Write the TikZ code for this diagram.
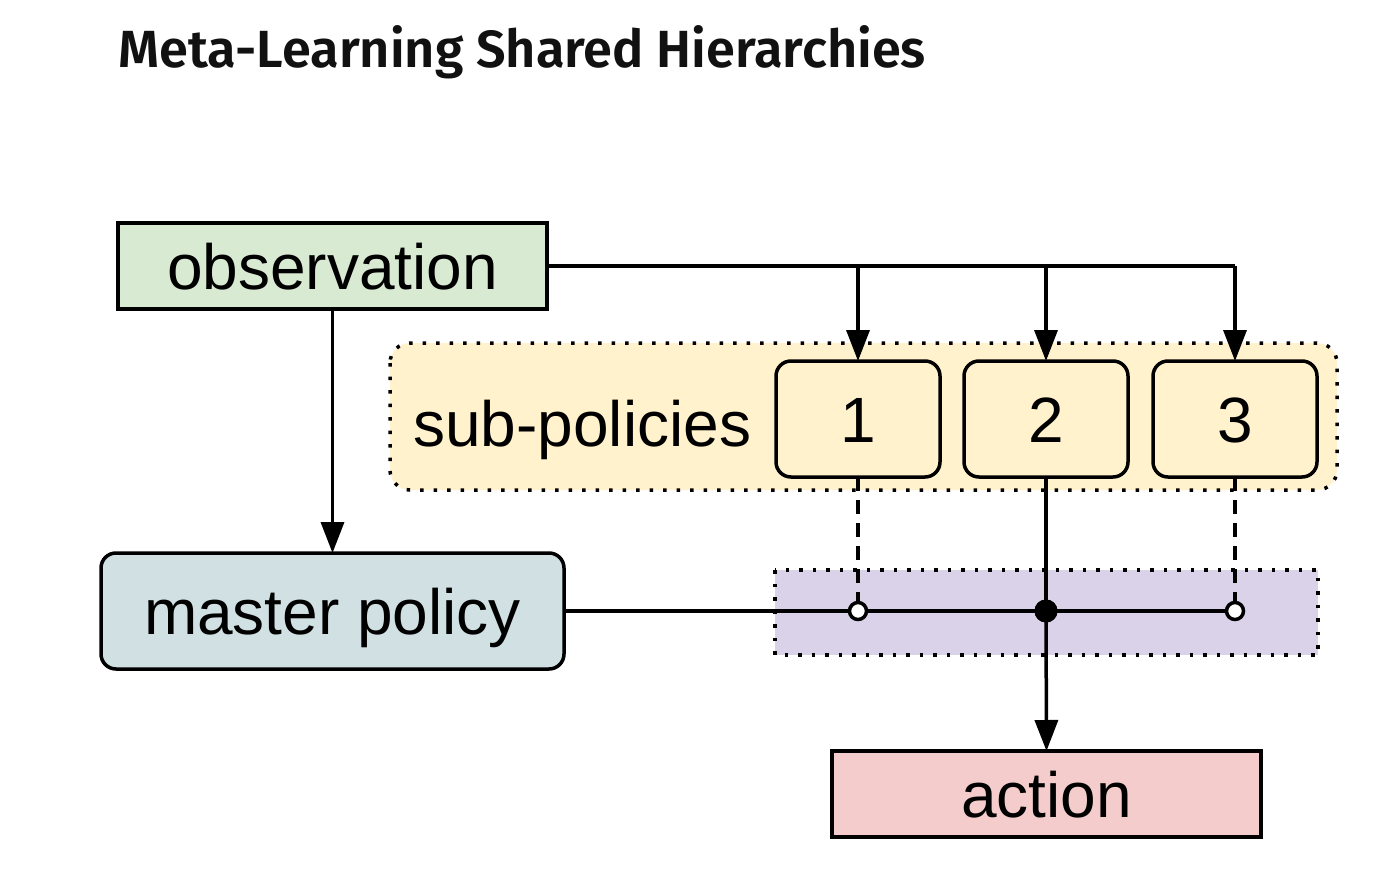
\documentclass[tikz,border=0pt]{standalone}
\usepackage{fontspec}
\setmainfont{Liberation Sans}
\newfontfamily\titlefont{Fira Sans SemiBold}
\usetikzlibrary{arrows.meta}
\definecolor{obsgreen}{HTML}{D9EAD3}
\definecolor{mastblue}{HTML}{D0E0E3}
\definecolor{actred}{HTML}{F4CCCC}
\definecolor{subyellow}{HTML}{FFF2CC}
\definecolor{swpurple}{HTML}{D9D2E9}
\definecolor{titleink}{HTML}{111111}
\tikzset{
  lw/.style={line width=3.5pt},
  box/.style={draw=black, lw, inner sep=0pt, outer sep=0pt, font=\fontsize{64}{70}\selectfont, text height=46pt, text depth=0pt},
  rbox/.style={box, rounded corners=15pt},
  conn/.style={lw, draw=black},
  arr/.style={conn, -{Triangle[length=31pt,width=23pt]}},
  dotframe/.style={line width=3.5pt, dash pattern=on 3.5pt off 10pt},
  opendot/.style={circle, draw=black, lw, fill=white, minimum size=17pt, inner sep=0pt, outer sep=0pt},
  fulldot/.style={circle, fill=black, minimum size=23pt, inner sep=0pt, outer sep=0pt},
}
\begin{document}
\begin{tikzpicture}[x=1pt,y=-1pt]
\useasboundingbox (0,0) rectangle (1374,886);
% title
\node[anchor=base west, inner sep=0pt, text=titleink, font=\titlefont\fontsize{52.3}{60}\selectfont] (title) at (118,67) {Meta-Learning Shared Hierarchies};
% group frames
\draw[fill=subyellow, dotframe, rounded corners=20pt] (390,343) rectangle (1337,490);
\draw[fill=swpurple, dotframe] (775,570) rectangle (1318,655);
% nodes
\node[box, fill=obsgreen, minimum width=429pt, minimum height=86pt] (obs) at (332.5,266) {observation};
\node[rbox, fill=mastblue, minimum width=463pt, minimum height=116pt] (mast) at (332.5,611) {master policy};
\node[box, fill=actred, minimum width=429pt, minimum height=86pt] (act) at (1046.5,794) {action};
\node[anchor=base west, inner sep=0pt, font=\fontsize{64}{70}\selectfont] (sublabel) at (413,446) {sub-policies};
\node[rbox, fill=subyellow, minimum width=164pt, minimum height=116pt] (s1) at (858,419) {1};
\node[rbox, fill=subyellow, minimum width=164pt, minimum height=116pt] (s2) at (1046,419) {2};
\node[rbox, fill=subyellow, minimum width=164pt, minimum height=116pt] (s3) at (1235,419) {3};
% switch dots
\node[opendot] (c1) at (858,611) {};
\node[fulldot] (c2) at (1046,611) {};
\node[opendot] (c3) at (1235,611) {};
% connectors
\draw[conn] (obs.east) -- (obs.east -| s3.north);
\draw[arr] (obs.east -| s1.north) -- (s1.north);
\draw[arr] (obs.east -| s2.north) -- (s2.north);
\draw[arr] (obs.east -| s3.north) -- (s3.north);
\draw[arr] (obs.south) -- (mast.north);
\draw[conn] (mast.east) -- (c1.west);
\draw[conn] (c1.east) -- (c2.center);
\draw[conn] (c2.center) -- (c3.west);
\draw[conn, dash pattern=on 14pt off 9pt] (s1.south) -- (c1.north);
\draw[conn, dash pattern=on 14pt off 9pt] (s3.south) -- (c3.north);
\draw[conn] (s2.south) -- (c2.center);
\draw[arr] (c2.center) -- (act.north);
\node[fulldot] at (c2) {};
\end{tikzpicture}
\end{document}
